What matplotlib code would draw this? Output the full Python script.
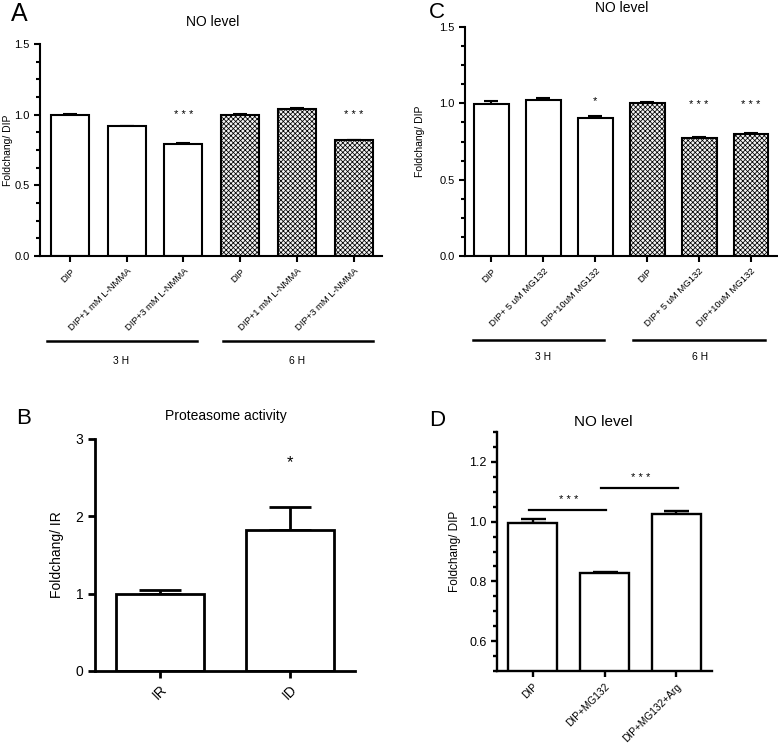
import matplotlib
matplotlib.use("Agg")
import matplotlib.pyplot as plt
import matplotlib.transforms as mtransforms
from matplotlib.ticker import MultipleLocator

plt.rcParams['font.family'] = ['Liberation Sans', 'DejaVu Sans']
plt.rcParams['hatch.linewidth'] = 0.55
plt.rcParams['hatch.color'] = '#a0a0a0'

# ---------- data ----------
a_labels = ["DIP", "DIP+1 mM L-NMMA", "DIP+3 mM L-NMMA",
            "DIP", "DIP+1 mM L-NMMA", "DIP+3 mM L-NMMA"]
a_values = [1.00, 0.917, 0.795, 1.00, 1.042, 0.818]
a_errors = [0.006, 0.003, 0.004, 0.005, 0.006, 0.003]
a_stars = ["", "", "* * *", "", "", "* * *"]
a_groups = ["3 H", "6 H"]

c_labels = ["DIP", "DIP+ 5 uM MG132", "DIP+10uM MG132",
            "DIP", "DIP+ 5 uM MG132", "DIP+10uM MG132"]
c_values = [0.997, 1.025, 0.905, 1.00, 0.774, 0.800]
c_errors = [0.017, 0.011, 0.015, 0.010, 0.008, 0.006]
c_stars = ["", "", "*", "", "* * *", "* * *"]
c_groups = ["3 H", "6 H"]

b_labels = ["IR", "ID"]
b_values = [1.00, 1.825]
b_errors = [0.045, 0.29]
b_stars = ["", "*"]

d_labels = ["DIP", "DIP+MG132", "DIP+MG132+Arg"]
d_values = [0.997, 0.828, 1.027]
d_errors = [0.012, 0.003, 0.009]
d_brackets = [(0, 1, 1.040, "* * *"), (1, 2, 1.113, "* * *")]

W, H = 778, 743
fig = plt.figure(figsize=(W / 100, H / 100), dpi=100)


def rect(l, r, t, b):
    return [l / W, 1 - b / H, (r - l) / W, (b - t) / H]


def style(ax, lw=1.5):
    for s in ["top", "right"]:
        ax.spines[s].set_visible(False)
    for s in ["left", "bottom"]:
        ax.spines[s].set_linewidth(lw)
    ax.tick_params(which="both", direction="out", width=lw, color="black")


def bars(ax, values, errors, hatched, width, capsize, fs_lab, labels, lw=1.5):
    x = list(range(len(values)))
    for i, v in enumerate(values):
        h = hatched[i]
        ax.bar(x[i], v, width=width, color="#f4f4f4" if h else "white",
               edgecolor="black", linewidth=lw, hatch="xxxxxxx" if h else None,
               zorder=2)
    ax.errorbar(x, values, yerr=[[0] * len(errors), errors], fmt="none",
                ecolor="black", elinewidth=lw, capsize=capsize, capthick=lw,
                zorder=1)
    ax.set_xticks(x)
    ax.set_xticklabels(labels, rotation=45, ha="right", rotation_mode="anchor",
                       fontsize=fs_lab)


# ---------- Panel A ----------
axA = fig.add_axes(rect(40, 382, 44, 256))
style(axA)
bars(axA, a_values, a_errors, [False] * 3 + [True] * 3, 0.67, 5, 6.8, a_labels)
axA.set_xlim(-0.53, 5.5)
axA.set_ylim(0, 1.5)
axA.yaxis.set_major_locator(MultipleLocator(0.5))
axA.yaxis.set_minor_locator(MultipleLocator(0.125))
axA.yaxis.set_major_formatter(matplotlib.ticker.FormatStrFormatter("%.1f"))
axA.tick_params(axis="y", labelsize=8, length=4)
axA.tick_params(axis="y", which="minor", length=3)
axA.tick_params(axis="x", length=4)
axA.set_ylabel("Foldchang/ DIP", fontsize=7.5, labelpad=1)
for i, s in enumerate(a_stars):
    if s:
        axA.text(i, 0.965, s, ha="center", va="bottom", fontsize=8)
tA = mtransforms.blended_transform_factory(axA.transData, axA.transAxes)
for (x0, x1, xc), g in zip([(-0.41, 2.24, 0.9), (2.69, 5.34, 4.0)], a_groups):
    axA.plot([x0, x1], [-0.401, -0.401], color="black", lw=1.8,
             transform=tA, clip_on=False)
    axA.text(xc, -0.495, g, transform=tA, ha="center", va="center", fontsize=7.5)
fig.text(213 / W, 1 - 22 / H, "NO level", ha="center", va="center", fontsize=10)
fig.text(19 / W, 1 - 14 / H, "A", ha="center", va="center", fontsize=18)

# ---------- Panel C ----------
axC = fig.add_axes(rect(465, 777, 27, 256))
style(axC)
bars(axC, c_values, c_errors, [False] * 3 + [True] * 3, 0.67, 5, 6.8, c_labels)
axC.set_xlim(-0.51, 5.5)
axC.set_ylim(0, 1.5)
axC.yaxis.set_major_locator(MultipleLocator(0.5))
axC.yaxis.set_minor_locator(MultipleLocator(0.125))
axC.yaxis.set_major_formatter(matplotlib.ticker.FormatStrFormatter("%.1f"))
axC.tick_params(axis="y", labelsize=8, length=4)
axC.tick_params(axis="y", which="minor", length=3)
axC.tick_params(axis="x", length=4)
axC.set_ylabel("Foldchang/ DIP", fontsize=7.5, labelpad=10)
for i, s in enumerate(c_stars):
    if s:
        yv = 0.985 if s == "*" else 0.955
        axC.text(i, yv, s, ha="center", va="bottom", fontsize=8)
tC = mtransforms.blended_transform_factory(axC.transData, axC.transAxes)
for (x0, x1, xc), g in zip([(-0.36, 2.17, 1.0), (2.73, 5.27, 4.02)], c_groups):
    axC.plot([x0, x1], [-0.367, -0.367], color="black", lw=1.8,
             transform=tC, clip_on=False)
    axC.text(xc, -0.441, g, transform=tC, ha="center", va="center", fontsize=7.5)
fig.text(622 / W, 1 - 8 / H, "NO level", ha="center", va="center", fontsize=10)
fig.text(437 / W, 1 - 13 / H, "C", ha="center", va="center", fontsize=16)

# ---------- Panel B ----------
axB = fig.add_axes(rect(95, 355, 439, 671))
style(axB, lw=2)
bars(axB, b_values, b_errors, [False, False], 0.67, 15, 10, b_labels, lw=2)
axB.set_xlim(-0.5, 1.5)
axB.set_ylim(0, 3)
axB.yaxis.set_major_locator(MultipleLocator(1))
axB.tick_params(axis="y", labelsize=10, length=5)
axB.tick_params(axis="x", length=5)
axB.set_ylabel("Foldchang/ IR", fontsize=10, labelpad=8)
for i, s in enumerate(b_stars):
    if s:
        axB.text(i, 2.6, s, ha="center", va="bottom", fontsize=12)
fig.text(226 / W, 1 - 416 / H, "Proteasome activity", ha="center", va="center", fontsize=10)
fig.text(24 / W, 1 - 419 / H, "B", ha="center", va="center", fontsize=16)

# ---------- Panel D ----------
axD = fig.add_axes(rect(497, 712, 432, 671))
style(axD, lw=1.7)
bars(axD, d_values, d_errors, [False] * 3, 0.68, 9, 7.3, d_labels, lw=1.7)
axD.set_xlim(-0.5, 2.5)
axD.set_ylim(0.5, 1.3)
axD.yaxis.set_major_locator(matplotlib.ticker.FixedLocator([0.6, 0.8, 1.0, 1.2]))
axD.yaxis.set_minor_locator(MultipleLocator(0.05))
axD.yaxis.set_major_formatter(matplotlib.ticker.FormatStrFormatter("%.1f"))
axD.tick_params(axis="y", labelsize=9, length=4)
axD.tick_params(axis="y", which="minor", length=3)
axD.tick_params(axis="x", length=4)
axD.set_ylabel("Foldchang/ DIP", fontsize=8.5, labelpad=6)
for x0, x1, yv, s in d_brackets:
    axD.plot([x0 - 0.05, x1 + 0.02], [yv, yv], color="black", lw=1.6)
    axD.text((x0 + x1) / 2, yv + 0.015, s, ha="center", va="bottom", fontsize=8)
fig.text(603 / W, 1 - 422 / H, "NO level", ha="center", va="center", fontsize=11)
fig.text(437 / W, 1 - 420 / H, "D", ha="center", va="center", fontsize=16)

fig.savefig("out.png", dpi=100)
